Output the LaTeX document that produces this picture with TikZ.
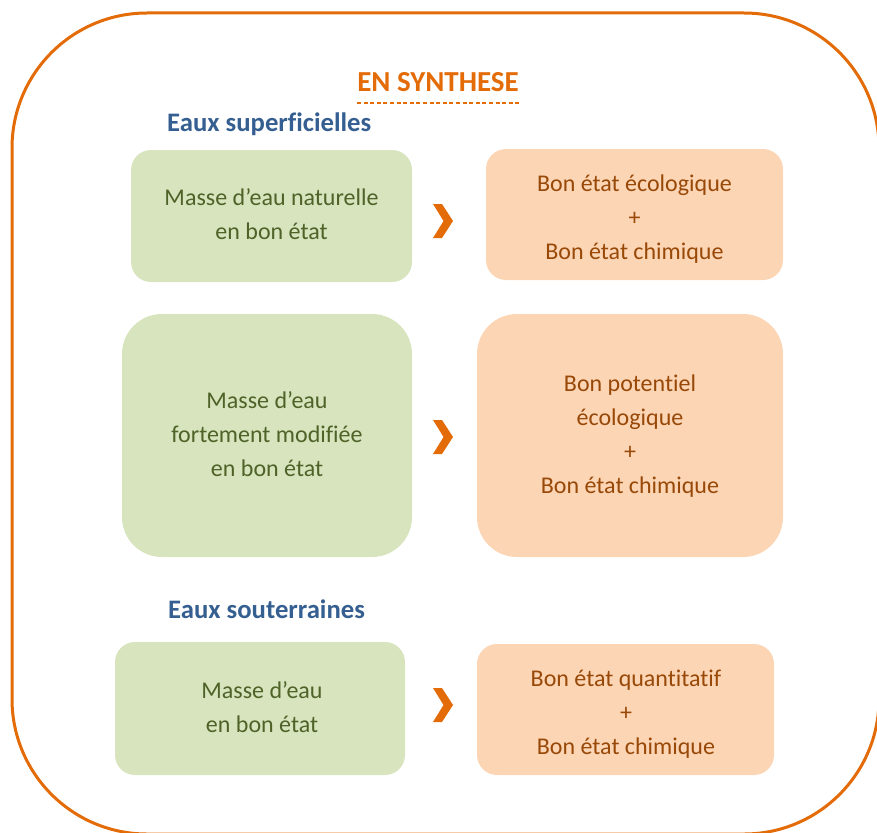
\documentclass[tikz,border=0pt]{standalone}
\usepackage{fontspec}
\setmainfont[Ligatures=NoCommon]{Carlito}
\definecolor{frameor}{HTML}{E36C09}
\definecolor{greenfill}{HTML}{D7E4BD}
\definecolor{greentxt}{HTML}{4F6228}
\definecolor{orfill}{HTML}{FCD5B5}
\definecolor{ortxt}{HTML}{984807}
\definecolor{headblue}{HTML}{365F91}
\begin{document}
\begin{tikzpicture}[x=1pt,y=-1pt,
  greenbox/.style={fill=greenfill,text=greentxt,align=center,inner sep=0pt,
    font=\fontsize{24}{34}\selectfont},
  orbox/.style={fill=orfill,text=ortxt,align=center,inner sep=0pt,
    font=\fontsize{24}{34}\selectfont},
  header/.style={text=headblue,anchor=west,inner sep=0pt,font=\bfseries\fontsize{26.7}{30}\selectfont},
  chevron/.style={fill=frameor,draw=none}]
\useasboundingbox (0,0) rectangle (877,832);
\draw[frameor,line width=3pt,rounded corners=135pt] (12,13) rectangle (879,834);
% title
\node[text=frameor,inner sep=0pt,font=\bfseries\fontsize{29}{30}\selectfont] (title) at (438,82) {EN SYNTHESE};
\draw[frameor,line width=2pt,dash pattern=on 4pt off 2.6pt] (357,103) -- (520,103);
% headers
\node[header] (h1) at (167,124) {Eaux superficielles};
\node[header] (h2) at (168,609) {Eaux souterraines};
% row 1
\path[greenbox,rounded corners=20pt] (131,150) rectangle (412,282);
\node[greenbox,fill=none] (g1) at (271.5,214.5) {Masse d’eau naturelle\\en bon état};
\path[orbox,rounded corners=20pt] (486,149) rectangle (783,280);
\node[orbox,fill=none] (o1) at (634.5,219.5) {Bon état écologique\\+\\Bon état chimique};
% row 2
\path[greenbox,rounded corners=40pt] (122,314) rectangle (412,557);
\node[greenbox,fill=none] (g2) at (267,434.5) {Masse d’eau\\fortement modifiée\\en bon état};
\path[orbox,rounded corners=40pt] (477,314) rectangle (783,557);
\node[orbox,fill=none] (o2) at (630,436) {Bon potentiel\\écologique\\+\\Bon état chimique};
% row 3
\path[greenbox,rounded corners=20pt] (115,642) rectangle (405,775);
\node[greenbox,fill=none] (g3) at (262,707.5) {Masse d’eau\\en bon état};
\path[orbox,rounded corners=20pt] (477,644) rectangle (774,775);
\node[orbox,fill=none] (o3) at (626,714) {Bon état quantitatif\\+\\Bon état chimique};
% chevrons
\foreach \cy in {221,437,705}{
  \fill[chevron] (433,\cy-17) -- (442,\cy-17) -- (453,\cy) -- (442,\cy+17) -- (433,\cy+17) -- (443.5,\cy) -- cycle;
}
\end{tikzpicture}
\end{document}
